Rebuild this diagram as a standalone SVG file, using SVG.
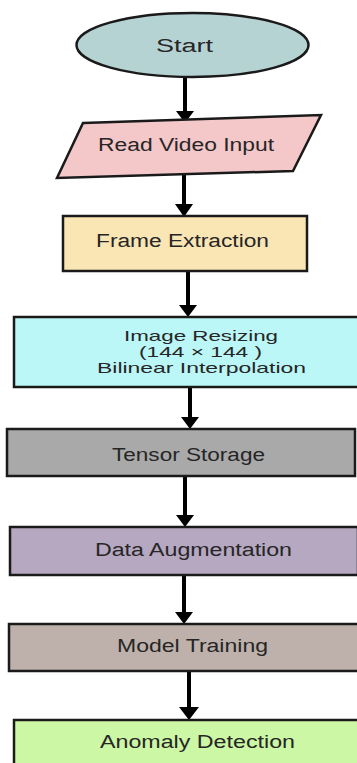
<svg xmlns="http://www.w3.org/2000/svg" width="357" height="763" viewBox="0 0 357 763">
<defs>
<style>
.n{stroke:#1a1a1a;stroke-width:2.5}
.t{font-family:"Liberation Sans",Arial,sans-serif;font-size:18px;fill:#262626;text-anchor:middle}
.s{font-size:15px}
.c{stroke:#000;stroke-width:4;fill:none}
.h{fill:#000}
</style>
</defs>
<rect width="357" height="763" fill="#ffffff"/>
<g id="connectors">
<path class="c" d="M185,77 V112"/><path class="h" d="M176,111 L194,111 L185,123 Z"/>
<path class="c" d="M184,174 V205"/><path class="h" d="M175,204 L193,204 L184,217 Z"/>
<path class="c" d="M188,271 V306"/><path class="h" d="M179,305 L197,305 L188,317 Z"/>
<path class="c" d="M190,387 V418"/><path class="h" d="M181,417 L199,417 L190,429 Z"/>
<path class="c" d="M185,476 V516"/><path class="h" d="M176,515 L194,515 L185,527 Z"/>
<path class="c" d="M184,575 V613"/><path class="h" d="M175,612 L193,612 L184,624 Z"/>
<path class="c" d="M189,671 V708"/><path class="h" d="M179,707 L199,707 L189,720 Z"/>
</g>
<g id="start">
<ellipse class="n" cx="192.5" cy="45" rx="116" ry="32" fill="#b6d3d4"/>
<text class="t" x="184.5" y="52" font-size="21" textLength="57" lengthAdjust="spacingAndGlyphs">Start</text>
</g>
<g id="read-video-input">
<polygon class="n" points="83,123 321,115 293,171 57,178" fill="#f4c7c9"/>
<text class="t" x="186" y="151" textLength="176" lengthAdjust="spacingAndGlyphs">Read Video Input</text>
</g>
<g id="frame-extraction">
<rect class="n" x="63" y="216" width="244" height="55" fill="#fae5b5"/>
<text class="t" x="182.5" y="247" textLength="173" lengthAdjust="spacingAndGlyphs">Frame Extraction</text>
</g>
<g id="image-resizing">
<rect class="n" x="14" y="317" width="345" height="70" fill="#bbf7f6"/>
<text class="t s" x="201" y="341" textLength="154" lengthAdjust="spacingAndGlyphs">Image Resizing</text>
<text class="t s" x="200.5" y="357" textLength="123" lengthAdjust="spacingAndGlyphs">(144 × 144 )</text>
<text class="t s" x="201.5" y="373" textLength="209" lengthAdjust="spacingAndGlyphs">Bilinear Interpolation</text>
</g>
<g id="tensor-storage">
<rect class="n" x="7" y="429" width="348" height="47" fill="#a9a9a9"/>
<text class="t" x="188.5" y="461" textLength="153" lengthAdjust="spacingAndGlyphs">Tensor Storage</text>
</g>
<g id="data-augmentation">
<rect class="n" x="10" y="527" width="348" height="48" fill="#b6a8c1"/>
<text class="t" x="193.5" y="556" textLength="197" lengthAdjust="spacingAndGlyphs">Data Augmentation</text>
</g>
<g id="model-training">
<rect class="n" x="9" y="624" width="350" height="47" fill="#beb1ab"/>
<text class="t" x="192.5" y="652" textLength="151" lengthAdjust="spacingAndGlyphs">Model Training</text>
</g>
<g id="anomaly-detection">
<rect class="n" x="14" y="720" width="345" height="50" fill="#ccf7a5"/>
<text class="t" x="197.5" y="748" textLength="195" lengthAdjust="spacingAndGlyphs">Anomaly Detection</text>
</g>
</svg>
